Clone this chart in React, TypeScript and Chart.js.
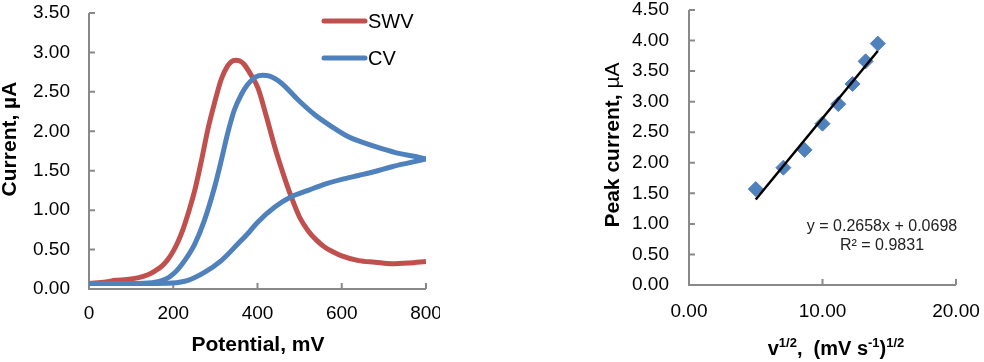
import React, { useEffect, useRef } from "react";
import { Chart, registerables } from "chart.js";

Chart.register(...registerables);

const FONT = "'Liberation Sans', Arial, Helvetica, sans-serif";

// ---------- Left chart data (potential in mV, current in µA) ----------
const swvPotential = [0, 40, 63, 90, 118, 140, 157, 175, 188, 200, 212, 224, 235, 251, 267, 282, 298, 314, 329, 340, 349, 358, 368, 384, 401, 421, 441, 461, 480, 500, 520, 540, 560, 580, 600, 640, 679, 719, 759, 800];
const swvCurrent = [0.07, 0.09, 0.11, 0.12, 0.145, 0.18, 0.23, 0.3, 0.38, 0.48, 0.61, 0.77, 0.95, 1.25, 1.63, 2.02, 2.36, 2.66, 2.83, 2.89, 2.9, 2.89, 2.85, 2.72, 2.55, 2.19, 1.8, 1.46, 1.17, 0.91, 0.74, 0.62, 0.53, 0.47, 0.42, 0.36, 0.34, 0.32, 0.33, 0.35];

const cvForwardPotential = [0, 50, 100, 150, 180, 204, 227, 251, 274, 298, 314, 329, 345, 361, 376, 396, 412, 429, 457, 496, 536, 576, 616, 655, 695, 735, 775, 800];
const cvForwardCurrent = [0.07, 0.07, 0.07, 0.08, 0.12, 0.21, 0.36, 0.57, 0.87, 1.29, 1.63, 1.97, 2.27, 2.46, 2.59, 2.69, 2.71, 2.7, 2.61, 2.4, 2.21, 2.06, 1.93, 1.85, 1.78, 1.72, 1.68, 1.65];

// reverse scan (listed by increasing potential)
const cvReversePotential = [0, 100, 160, 196, 235, 274, 314, 353, 380, 401, 441, 480, 520, 560, 600, 640, 679, 719, 759, 800];
const cvReverseCurrent = [0.07, 0.07, 0.07, 0.075, 0.11, 0.21, 0.36, 0.57, 0.72, 0.85, 1.04, 1.17, 1.25, 1.33, 1.39, 1.44, 1.49, 1.55, 1.6, 1.65];

const leftXTitle = "Potential, mV";
const leftYTitle = "Current, µA";
const legendLabels = ["SWV", "CV"];

// ---------- Right chart data ----------
const sqrtScanRate = [5.0, 7.07, 8.66, 10.0, 11.18, 12.25, 13.23, 14.14];
const peakCurrent = [1.57, 1.92, 2.21, 2.64, 2.96, 3.29, 3.66, 3.95];
const trendSlope = 0.2658;
const trendIntercept = 0.0698;
const trendR2 = 0.9831;
const trendRange = [5.0, 14.14];

const RED = "#C0504D";
const BLUE = "#4F81BD";
const AXIS = "#898989";

const pts = (xs: number[], ys: number[]) => xs.map((x, i) => ({ x, y: ys[i] }));

const excelAxes = {
  id: "excelAxes",
  beforeDatasetsDraw(chart: any) {
    const { ctx, chartArea: a, scales } = chart;
    ctx.save();
    ctx.strokeStyle = AXIS;
    ctx.lineWidth = 2;
    ctx.beginPath();
    ctx.moveTo(a.left, a.top);
    ctx.lineTo(a.left, a.bottom);
    ctx.lineTo(a.right, a.bottom);
    for (const t of scales.y.ticks) {
      const py = scales.y.getPixelForValue(t.value);
      ctx.moveTo(a.left, py);
      ctx.lineTo(a.left + 6, py);
    }
    for (const t of scales.x.ticks) {
      const px = scales.x.getPixelForValue(t.value);
      ctx.moveTo(px, a.bottom);
      ctx.lineTo(px, a.bottom - 6);
    }
    ctx.stroke();
    ctx.restore();
  },
};

const tickFont = { family: FONT, size: 19 };

function fixedAxis(size: number, horizontal: boolean) {
  return (s: any) => {
    if (horizontal) s.height = size;
    else s.width = size;
    s.paddingLeft = 0;
    s.paddingRight = 0;
    s.paddingTop = 0;
    s.paddingBottom = 0;
  };
}

const curve = (label: string, data: any[], color: string, order: number) => ({
  label,
  data,
  borderColor: color,
  borderWidth: 5,
  pointRadius: 0,
  cubicInterpolationMode: "monotone",
  order,
});

function leftConfig(): any {
  const leftText = {
    id: "leftText",
    afterDraw(chart: any) {
      const ctx = chart.ctx;
      ctx.save();
      ctx.fillStyle = "#000";
      ctx.font = `bold 21px ${FONT}`;
      ctx.textAlign = "center";
      ctx.textBaseline = "middle";
      ctx.fillText(leftXTitle, 258, 345);
      ctx.save();
      ctx.translate(10, 139);
      ctx.rotate(-Math.PI / 2);
      ctx.fillText(leftYTitle, 0, 0);
      ctx.restore();
      // legend
      const colors = [RED, BLUE];
      const ys = [21, 58];
      ctx.font = `20px ${FONT}`;
      ctx.textAlign = "left";
      legendLabels.forEach((lab, i) => {
        ctx.strokeStyle = colors[i];
        ctx.lineWidth = 5;
        ctx.lineCap = "round";
        ctx.beginPath();
        ctx.moveTo(324, ys[i]);
        ctx.lineTo(365, ys[i]);
        ctx.stroke();
        ctx.fillText(lab, 368, ys[i] + 1);
      });
      ctx.restore();
    },
  };
  return {
    type: "line",
    data: {
      datasets: [
        curve("CV", pts(cvForwardPotential, cvForwardCurrent), BLUE, 0),
        curve("CV (reverse scan)", pts(cvReversePotential, cvReverseCurrent), BLUE, 0),
        curve("SWV", pts(swvPotential, swvCurrent), RED, 1),
      ],
    },
    options: {
      responsive: false,
      animation: false,
      devicePixelRatio: 1,
      layout: { padding: { top: 13, right: 14, left: 0, bottom: 0 } },
      plugins: { legend: { display: false }, tooltip: { enabled: false } },
      scales: {
        x: {
          type: "linear",
          min: 0,
          max: 800,
          ticks: { stepSize: 200, font: tickFont, color: "#000", padding: 13, maxRotation: 0 },
          grid: { display: false, drawTicks: false },
          border: { display: false },
          afterFit: fixedAxis(73, true),
        },
        y: {
          type: "linear",
          min: 0,
          max: 3.5,
          ticks: {
            stepSize: 0.5,
            font: tickFont,
            color: "#000",
            padding: 19,
            callback: (v: any) => Number(v).toFixed(2),
          },
          grid: { display: false, drawTicks: false },
          border: { display: false },
          afterFit: fixedAxis(89, false),
        },
      },
    },
    plugins: [excelAxes, leftText],
  };
}

function rightConfig(): any {
  const rightText = {
    id: "rightText",
    afterDraw(chart: any) {
      const ctx = chart.ctx;
      ctx.save();
      ctx.fillStyle = "#000";
      ctx.textBaseline = "alphabetic";
      // y title: "Peak current, " bold + "µA" regular
      const p1 = "Peak current, ";
      const p2 = "µA";
      ctx.font = `bold 21px ${FONT}`;
      const w1 = ctx.measureText(p1).width;
      ctx.font = `21px ${FONT}`;
      const w2 = ctx.measureText(p2).width;
      ctx.save();
      ctx.translate(22 + 7, 145);
      ctx.rotate(-Math.PI / 2);
      const sx = -(w1 + w2) / 2;
      ctx.textAlign = "left";
      ctx.font = `bold 21px ${FONT}`;
      ctx.fillText(p1, sx, 0);
      ctx.font = `21px ${FONT}`;
      ctx.fillText(p2, sx + w1, 0);
      ctx.restore();

      // x title with superscripts
      const parts: [string, boolean][] = [
        ["v", false],
        ["1/2", true],
        [",  (mV s", false],
        ["-1", true],
        [")", false],
        ["1/2", true],
      ];
      const big = `bold 20px ${FONT}`;
      const small = `bold 13px ${FONT}`;
      let total = 0;
      for (const [t, sup] of parts) {
        ctx.font = sup ? small : big;
        total += ctx.measureText(t).width;
      }
      let x = 246 - total / 2;
      const base = 355;
      for (const [t, sup] of parts) {
        ctx.font = sup ? small : big;
        ctx.fillText(t, x, sup ? base - 8 : base);
        x += ctx.measureText(t).width;
      }

      // trendline equation
      ctx.font = `16px ${FONT}`;
      ctx.textAlign = "center";
      ctx.textBaseline = "middle";
      ctx.fillStyle = "#222";
      ctx.fillText(`y = ${trendSlope.toFixed(4)}x + ${trendIntercept.toFixed(4)}`, 292, 227);
      ctx.fillText(`R² = ${trendR2.toFixed(4)}`, 292, 246);
      ctx.restore();
    },
  };
  return {
    type: "scatter",
    data: {
      datasets: [
        {
          type: "line",
          label: "Linear fit",
          data: trendRange.map((x) => ({ x, y: trendSlope * x + trendIntercept })),
          borderColor: "#000",
          borderWidth: 2.5,
          pointRadius: 0,
          order: 0,
        },
        {
          label: "Peak current",
          data: pts(sqrtScanRate, peakCurrent),
          backgroundColor: BLUE,
          borderColor: BLUE,
          pointStyle: "rectRot",
          pointRadius: 7.5,
          borderWidth: 1,
          order: 1,
        },
      ],
    },
    options: {
      responsive: false,
      animation: false,
      devicePixelRatio: 1,
      layout: { padding: { top: 10, right: 28, left: 0, bottom: 0 } },
      plugins: { legend: { display: false }, tooltip: { enabled: false } },
      scales: {
        x: {
          type: "linear",
          min: 0,
          max: 20,
          ticks: {
            stepSize: 10,
            font: tickFont,
            color: "#000",
            padding: 15,
            maxRotation: 0,
            callback: (v: any) => Number(v).toFixed(2),
          },
          grid: { display: false, drawTicks: false },
          border: { display: false },
          afterFit: fixedAxis(77, true),
        },
        y: {
          type: "linear",
          min: 0,
          max: 4.5,
          ticks: {
            stepSize: 0.5,
            font: tickFont,
            color: "#000",
            padding: 20,
            callback: (v: any) => Number(v).toFixed(2),
          },
          grid: { display: false, drawTicks: false },
          border: { display: false },
          afterFit: fixedAxis(99, false),
        },
      },
    },
    plugins: [excelAxes, rightText],
  };
}

function ChartCanvas({ make, left, width }: { make: () => any; left: number; width: number }) {
  const ref = useRef<HTMLCanvasElement | null>(null);
  useEffect(() => {
    if (!ref.current) return;
    const chart = new Chart(ref.current, make());
    return () => chart.destroy();
  }, [make]);
  return (
    <canvas
      ref={ref}
      width={width}
      height={362}
      style={{ position: "absolute", left, top: 0, width, height: 362, display: "block" }}
    />
  );
}

export default function App() {
  return (
    <div
      style={{
        position: "fixed",
        left: 0,
        top: 0,
        width: 984,
        height: 362,
        background: "#fff",
        overflow: "hidden",
      }}
    >
      <ChartCanvas make={leftConfig} left={0} width={440} />
      <ChartCanvas make={rightConfig} left={590} width={394} />
    </div>
  );
}
